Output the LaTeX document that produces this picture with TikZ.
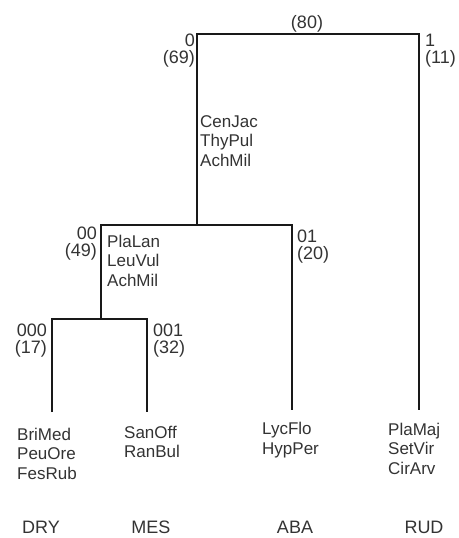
\documentclass[tikz,border=0pt]{standalone}
\usepackage{fontspec}
\setmainfont{Liberation Sans}
\begin{document}
\begin{tikzpicture}[x=1pt,y=-1pt,
  branch/.style={line width=1.8pt,draw=black!90},
  lbl/.style={inner sep=0pt,font=\fontsize{17}{19.5}\selectfont,text=black!80},
  num/.style={font=\fontsize{18}{17}\selectfont},
  grp/.style={font=\fontsize{18}{20}\selectfont},
  lblL/.style={lbl,anchor=base west,align=left},
  lblR/.style={lbl,anchor=base east,align=right},
  lblC/.style={lbl,anchor=base}]
\useasboundingbox (0,0) rectangle (458,538);
% joints
\coordinate (r0) at (197,34);
\coordinate (r1) at (419,34);
\coordinate (j0) at (197,225);
\coordinate (a00) at (101,225);
\coordinate (a01) at (292,225);
\coordinate (j00) at (101,319);
\coordinate (a000) at (52,319);
\coordinate (a001) at (147,319);
\coordinate (e000) at (52,412);
\coordinate (e001) at (147,412);
\coordinate (e01) at (292,410);
\coordinate (e1) at (419,410);
% branches
\draw[branch] (j0) -- (r0) -- (r1) -- (e1);
\draw[branch] (j00) -- (a00) -- (a01) -- (e01);
\draw[branch] (e000) -- (a000) -- (a001) -- (e001);
% labels (base = baseline of last line)
\node[lblC,num] (l80) at (307,28) {(80)};
\node[lblR,num] (l0) at (195,63) {0\\(69)};
\node[lblL,num] (l1) at (425,63) {1\\(11)};
\node[lblL] (sp0) at (200,166) {CenJac\\ThyPul\\AchMil};
\node[lblR,num] (l00) at (97,256) {00\\(49)};
\node[lblL] (sp00) at (107,286) {PlaLan\\LeuVul\\AchMil};
\node[lblL,num] (l01) at (297,259) {01\\(20)};
\node[lblR,num] (l000) at (47,353) {000\\(17)};
\node[lblL,num] (l001) at (153,353) {001\\(32)};
\node[lblL] (s000) at (17,479) {BriMed\\PeuOre\\FesRub};
\node[lblL] (s001) at (124,457.5) {SanOff\\RanBul};
\node[lblL] (s01) at (262,454) {LycFlo\\HypPer};
\node[lblL] (s1) at (388,474) {PlaMaj\\SetVir\\CirArv};
\node[lblC,grp] (g1) at (41,533) {DRY};
\node[lblC,grp] (g2) at (151,533) {MES};
\node[lblC,grp] (g3) at (295,533) {ABA};
\node[lblC,grp] (g4) at (424,533) {RUD};
\end{tikzpicture}
\end{document}
